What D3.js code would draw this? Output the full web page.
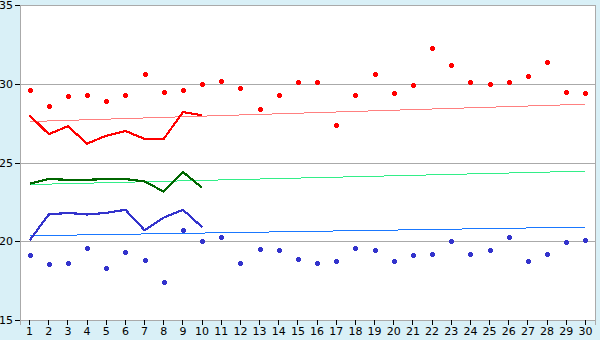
<!DOCTYPE html>
<html><head><meta charset="utf-8">
<script src="https://cdn.jsdelivr.net/npm/d3@7"></script>
<style>html,body{margin:0;padding:0;background:#d9f0f7;}svg{display:block;}</style>
</head><body>
<script>
const days = d3.range(1, 31);
const yTicks = [15, 20, 25, 30, 35];
const redPoints = [29.6,28.6,29.2,29.3,28.9,29.3,30.6,29.5,29.6,30.0,30.2,29.7,28.4,29.3,30.1,30.1,27.4,29.3,30.6,29.4,29.9,32.3,31.2,30.1,30.0,30.1,30.5,31.4,29.5,29.4];
const bluePoints = [19.1,18.55,18.6,19.6,18.3,19.3,18.8,17.4,20.7,20.0,20.3,18.6,19.5,19.45,18.9,18.6,18.75,19.6,19.45,18.75,19.1,19.2,20.0,19.2,19.45,20.3,18.75,19.2,19.95,20.1];
const redLine = [28.0,26.8,27.3,26.2,26.7,27.0,26.5,26.5,28.2,28.0];
const greenLine = [23.65,23.95,23.9,23.9,23.95,23.95,23.8,23.15,24.4,23.4];
const blueLine = [20.05,21.7,21.8,21.7,21.8,22.0,20.7,21.5,22.0,20.9];
const trendDays = [1, 30];
const redTrend = [27.6, 28.7];
const greenTrend = [23.6, 24.45];
const blueTrend = [20.35, 20.9];

const W = 600, H = 340;
const m = {l: 20, r: 5, t: 5, b: 20};
const svg = d3.select("body").append("svg").attr("width", W).attr("height", H);
svg.append("rect").attr("width", W).attr("height", H).attr("fill", "#d9f0f7");

const x = d3.scaleBand().domain(days).range([m.l, W - m.r]);
const xc = d => x(d) + x.bandwidth() / 2;
const y = d3.scaleLinear().domain([15, 35]).range([H - m.b, m.t]);

svg.append("rect").attr("x", m.l).attr("y", m.t).attr("width", W - m.r - m.l).attr("height", H - m.b - m.t).attr("fill", "#fff");

// grid
svg.append("g").selectAll("line").data(yTicks).join("line")
  .attr("x1", m.l).attr("x2", W - m.r).attr("y1", d => Math.round(y(d)) + 0.5).attr("y2", d => Math.round(y(d)) + 0.5)
  .attr("stroke", "#aaaaaa").attr("shape-rendering", "crispEdges");
// right border
svg.append("line").attr("x1", W - m.r + 0.5).attr("x2", W - m.r + 0.5).attr("y1", m.t).attr("y2", H - m.b)
  .attr("stroke", "#aaaaaa").attr("shape-rendering", "crispEdges");

// axes
const yAxis = svg.append("g").attr("transform", `translate(${m.l},0)`)
  .call(d3.axisLeft(y).tickValues(yTicks).tickSize(5).tickPadding(2).tickFormat(d3.format("d")));
const xAxis = svg.append("g").attr("transform", `translate(0,${H - m.b})`)
  .call(d3.axisBottom(x).tickSize(5).tickPadding(2));
[yAxis, xAxis].forEach(g => {
  g.select(".domain").attr("stroke", "#aaaaaa").attr("shape-rendering", "crispEdges");
  g.selectAll(".tick line").attr("stroke", "#000").attr("shape-rendering", "crispEdges");
  g.selectAll("text").attr("font-family", "DejaVu Sans, Verdana, sans-serif").attr("font-size", 11).attr("fill", "#000");
});

const line = d3.line().x((d, i) => xc(days[i])).y(d => y(d));
const tline = d3.line().x((d, i) => xc(trendDays[i])).y(d => y(d));

function trend(vals, color) {
  svg.append("path").datum(vals).attr("d", tline).attr("fill", "none").attr("stroke", color)
    .attr("stroke-width", 1).attr("shape-rendering", "crispEdges");
}
function thick(vals, color) {
  svg.append("path").datum(vals).attr("d", line).attr("fill", "none").attr("stroke", color)
    .attr("stroke-width", 2.2).attr("stroke-linejoin", "round").attr("shape-rendering", "crispEdges");
}
trend(redTrend, "#ff8080");
trend(greenTrend, "#33ee88");
trend(blueTrend, "#1a78ff");
thick(redLine, "#ff0000");
thick(greenLine, "#006600");
thick(blueLine, "#3333cc");

const marker = "M-1.5,-2.5H1.5V-1.5H2.5V1.5H1.5V2.5H-1.5V1.5H-2.5V-1.5H-1.5Z";
function pts(vals, color) {
  svg.append("g").selectAll("path").data(vals).join("path")
    .attr("transform", (d, i) => `translate(${Math.round(xc(days[i]))},${Math.round(y(d))})`)
    .attr("d", marker).attr("fill", color).attr("shape-rendering", "crispEdges");
}
pts(redPoints, "#ff0000");
pts(bluePoints, "#3333cc");
</script>
</body></html>
